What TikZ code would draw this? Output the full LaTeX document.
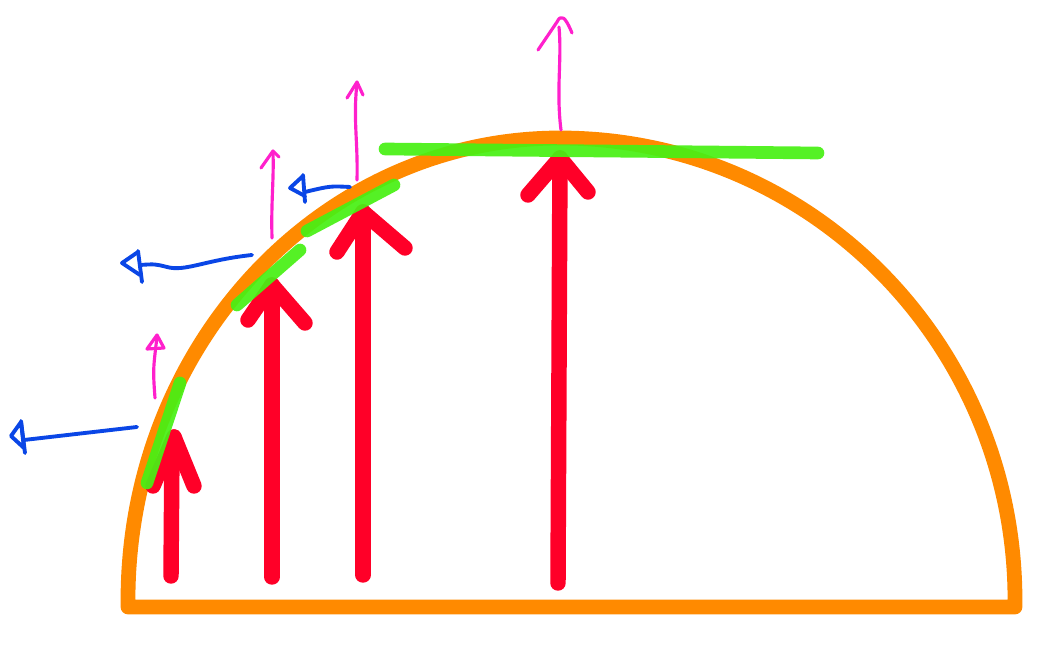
\documentclass[tikz,border=0pt]{standalone}
\usetikzlibrary{arrows.meta}
\definecolor{domeorange}{HTML}{FF8A00}
\definecolor{forcered}{HTML}{FF0028}
\definecolor{tanggreen}{HTML}{48F014}
\definecolor{liftpink}{HTML}{FF20CC}
\definecolor{dragblue}{HTML}{0A46E6}

\begin{document}
\begin{tikzpicture}[x=0.01cm, y=-0.01cm,
  dome/.style ={draw=domeorange, line width=4.2pt, line join=round},
  force/.style={draw=forcered, line width=4.4pt, line cap=round, line join=round},
  tang/.style ={draw=tanggreen, line width=3.6pt, line cap=round, opacity=0.93},
  lift/.style ={draw=liftpink, line width=0.9pt, line cap=round, line join=round},
  drag/.style ={draw=dragblue, line width=1.1pt, line cap=round, line join=round}]

\useasboundingbox (0,0) rectangle (1041,649);

%% ── Dome outline ─────────────────────────────────────────────────
\draw[dome] (128,600)
    arc[start angle=180, end angle=270, x radius=432, y radius=462]
    arc[start angle=270, end angle=360, x radius=455, y radius=462]
  -- (1015,607) -- (128,607) -- cycle;

%% ── Red arrows (upward forces) ───────────────────────────────────
\coordinate (tipA) at (174,437);
\coordinate (tipB) at (272,285);
\coordinate (tipC) at (363,212);
\coordinate (tipD) at (560,158);

\draw[force] (171,576) -- (172,445) -- (tipA);
\draw[force] (153,486) -- (tipA) -- (194,486);
\draw[force] (272,577) -- (tipB);
\draw[force] (248,320) -- (tipB) -- (305,323);
\draw[force] (363,575) -- (tipC);
\draw[force] (337,252) -- (tipC) -- (405,248);
\draw[force] (558,583) -- (tipD);
\draw[force] (528,195) -- (tipD) -- (588,192);

%% ── Green tangents ───────────────────────────────────────────────
\draw[tang] (147,483) -- (180,383);
\draw[tang] (237,305) -- (300,250);
\draw[tang] (307,231) -- (394,185);
\draw[tang] (385,149) -- (818,153);

%% ── Pink arrows (up) ─────────────────────────────────────────────
\draw[lift] (155,398) .. controls (153,370) .. (157,337);
\draw[lift] (147,349) -- (157,335) -- (164,348) -- cycle;
\draw[lift] (272,238) .. controls (271,200) and (274,180) .. (273,152);
\draw[lift] (261,168) -- (273,151) -- (279,157);
\draw[lift] (357,180) .. controls (358,140) and (353,120) .. (357,83);
\draw[lift] (347,98) -- (357,82) -- (363,95);
\draw[lift] (561,130) .. controls (556,90) and (562,60) .. (559,27);
\draw[lift] (538,50) -- (557,22) .. controls (561,14) and (565,16) .. (572,33);

%% ── Blue arrows (left) ───────────────────────────────────────────
\draw[drag] (137,427) -- (24,440);
\draw[drag] (21,422) -- (11,436) -- (24,448) -- cycle;
\draw[drag] (21,421) -- (25,453);
\draw[drag] (252,255) .. controls (205,260) and (185,272) .. (167,267)
  .. controls (155,264) .. (140,265);
\draw[drag] (138,252) -- (122,263) -- (140,275);
\draw[drag] (138,251) -- (142,282);
\draw[drag] (350,187) .. controls (330,186) .. (305,192);
\draw[drag] (303,176) -- (290,188) -- (305,196);
\draw[drag] (303,175) -- (305,202);
\end{tikzpicture}
\end{document}
